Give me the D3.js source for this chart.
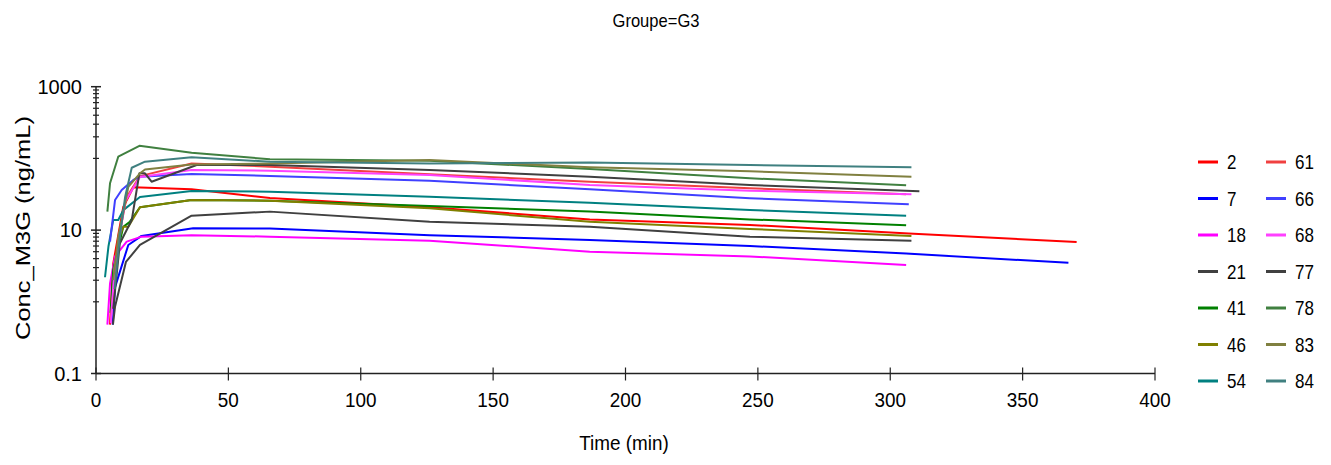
<!DOCTYPE html>
<html><head><meta charset="utf-8">
<script src="https://cdn.jsdelivr.net/npm/d3@7"></script>
<style>
body{margin:0;background:#fff}
svg{display:block}
text{font-family:"Liberation Sans",Arial,sans-serif;fill:#000}
</style>
</head><body>
<svg id="chart" width="1331" height="465"></svg>
<script>
// ---- data ----
const subjects = ["2","7","18","21","41","46","54","61","66","68","77","78","83","84"];
const colors   = ["#ff0000","#0000ff","#ff00ff","#404040","#008000","#808000","#008080",
                  "#f04040","#4040ff","#ff40ff","#404040","#408040","#808040","#408080"];
const xTicks = [0,50,100,150,200,250,300,350,400];
const yLabelTicks = [0.1,10,1000];
const yMinorTicks = [1,2,3,4,5,6,7,8,9,100,200,300,400,500,600,700,800,900];

const t2  = [5.3,6.5,10.3,14.1,36.1,65.7,126,186.5,247,307,370.4];
const c2  = [0.48,3.4,21,39.5,37,28,20.8,14.1,11.8,9.0,6.8];
const t7  = [6.3,7.2,12.2,17.2,36.7,65.7,126,186.5,247,306,367.3];
const c7  = [0.48,1.6,6.2,8.3,10.6,10.5,8.5,7.3,6.0,4.7,3.5];
const t18 = [4.3,5.3,7.2,11.6,17.2,36.1,65.7,126,186.5,247,306];
const c18 = [0.48,1.8,4.3,6.9,8.1,8.5,8.1,7.1,5.0,4.3,3.26];
const t21 = [6.4,7.2,11.3,16.6,36.1,65.7,126,186.5,247,308];
const c21 = [0.48,0.86,3.6,6.2,15.9,18.1,13.1,11.1,8.1,7.1];
const t41 = [5.5,6.5,10.3,12.8,16.6,36.1,65.7,126,186.5,247,306];
const c41 = [0.7,2.8,11.1,13.1,20.8,26.3,25.7,21.7,18.1,14.1,11.7];
const t46 = [6,8.4,10.3,12.2,16.6,36.1,65.7,126,186.5,247,308];
const c46 = [0.8,7.3,11.1,11.1,20.8,26.3,25.7,20.1,13.1,10.4,8.27];
const t54 = [3.4,4.7,6.5,8.4,10.3,16.6,36.1,65.7,126,186.5,247,306];
const c54 = [2.2,5.9,13.8,13.8,19,29,35,34.3,29.2,24.1,19.1,15.9];
const t61 = [5.5,8.4,11.6,16.6,36.1,65.7,126,186.5,247,306];
const c61 = [0.55,7.3,29,56.6,85,76.7,60,47.3,38.3,31.6];
const t66 = [5.3,7.2,9.7,14.1,16.6,36.1,65.7,126,186.5,247,307];
const c66 = [6.9,26.3,36.2,50,55.5,60.7,57,48.9,37,27.8,22.9];
const t68 = [5.6,7,11,16.6,36.1,65.7,126,186.5,247,308];
const c68 = [0.5,3,25,55,69,67.3,58.7,42.6,35.5,31.6];
const t77 = [6.5,9,13.5,16.4,18.5,21,38,65.7,126,186.5,247,311];
const c77 = [0.8,6.5,13.8,62,62,47.3,81,81,69,55.5,42.6,34.8];
const t78 = [4.3,5.3,8.4,16.4,36.1,65.7,126,186.5,247,306];
const c78 = [18.1,45,105.7,150,120,97.4,93,71,52.8,42.2];
const t83 = [6.5,8.4,12.2,16.6,18.5,36.1,65.7,126,186.5,247,308];
const c83 = [2,8,40,62,70,82,85,95,75,66,55.6];
const t84 = [7,9,11,13.5,18.5,36.1,65.7,126,186.5,247,308];
const c84 = [1.5,8,29,74,90,104,90,85,88,81,75];

const times = [t2,t7,t18,t21,t41,t46,t54,t61,t66,t68,t77,t78,t83,t84];
const concs = [c2,c7,c18,c21,c41,c46,c54,c61,c66,c68,c77,c78,c83,c84];

// ---- layout ----
const svg = d3.select("#chart");
const x = d3.scaleLinear().domain([0,400]).range([96,1155]);
const y = d3.scaleLog().domain([0.1,1000]).range([373.5,86.7]);
const axisColor = "#222";

// helper: horizontally condensed text
function ctext(parent, tx, ty, str, size, sx, anchor){
  return parent.append("text")
    .attr("transform",`translate(${tx},${ty}) scale(${sx},1)`)
    .attr("text-anchor",anchor||"start").attr("font-size",size).text(str);
}

// lines
const line = d3.line().x(d=>x(d[0])).y(d=>y(d[1]));
const plot = svg.append("g");
subjects.forEach((s,i)=>{
  const pts = times[i].map((t,j)=>[t,concs[i][j]]);
  plot.append("path").attr("d",line(pts)).attr("fill","none")
    .attr("stroke",colors[i]).attr("stroke-width",2).attr("stroke-linejoin","round");
});

// x axis
const gx = svg.append("g").attr("transform",`translate(0,${y(0.1)})`);
gx.append("line").attr("x1",x(0)).attr("x2",x(400)).attr("stroke",axisColor).attr("stroke-width",1.5);
xTicks.forEach(v=>{
  gx.append("line").attr("x1",x(v)).attr("x2",x(v)).attr("y1",-6).attr("y2",7)
    .attr("stroke",axisColor).attr("stroke-width",1.2);
  ctext(gx, x(v), 33, v, 21, 0.9, "middle");
});
ctext(svg, 624, 450, "Time (min)", 21, 0.9, "middle");

// y axis
const gy = svg.append("g").attr("transform",`translate(${x(0)},0)`);
gy.append("line").attr("y1",y(0.1)).attr("y2",y(1000)).attr("stroke",axisColor).attr("stroke-width",1.5);
yMinorTicks.forEach(v=>{
  gy.append("line").attr("x1",-3).attr("x2",3).attr("y1",y(v)).attr("y2",y(v))
    .attr("stroke",axisColor).attr("stroke-width",1.2);
});
yLabelTicks.forEach(v=>{
  gy.append("line").attr("x1",-5).attr("x2",5).attr("y1",y(v)).attr("y2",y(v))
    .attr("stroke",axisColor).attr("stroke-width",1.5);
  gy.append("text").attr("x",-14).attr("y",y(v)).attr("dy","0.36em").attr("text-anchor","end")
    .attr("font-size",20).text(v);
});
svg.append("text").attr("transform","translate(30,228) rotate(-90)").attr("text-anchor","middle")
  .attr("font-size",21).attr("textLength",224).attr("lengthAdjust","spacingAndGlyphs")
  .text("Conc_M3G (ng/mL)");

// title
svg.append("text").attr("x",656).attr("y",27).attr("text-anchor","middle")
  .attr("font-size",19).attr("textLength",87).attr("lengthAdjust","spacingAndGlyphs")
  .text("Groupe=G3");

// legend
const leg = svg.append("g");
subjects.forEach((s,i)=>{
  const col = Math.floor(i/7), row = i%7;
  const lx = 1198 + col*68, ly = 162 + row*36.5;
  leg.append("line").attr("x1",lx).attr("x2",lx+20).attr("y1",ly).attr("y2",ly)
    .attr("stroke",colors[i]).attr("stroke-width",3);
  ctext(leg, lx+29, ly+7, s, 20, 0.85, "start");
});
</script>
</body></html>
